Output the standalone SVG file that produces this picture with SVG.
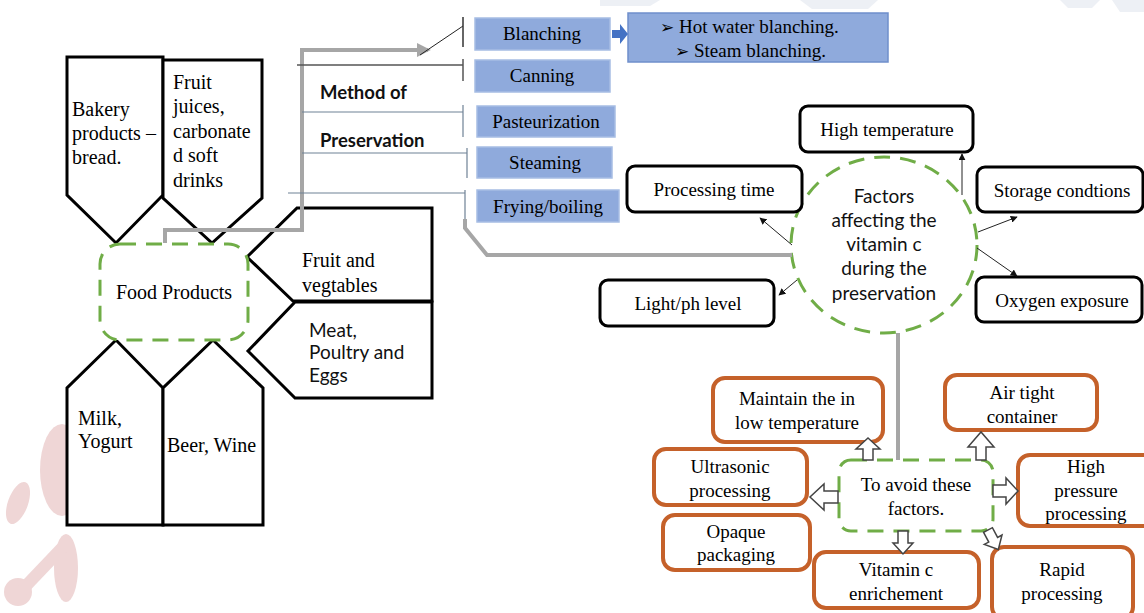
<svg xmlns="http://www.w3.org/2000/svg" width="1144" height="613" viewBox="0 0 1144 613">
<defs>
<style>
.serif{font-family:"Liberation Serif","Times New Roman",serif;fill:#000}
.sans{font-family:Lato,"Liberation Sans",sans-serif;fill:#111}
.s20{font-size:20px}
.s19{font-size:19px}
.bul{font-family:"DejaVu Sans",sans-serif;font-size:17px}
.pent{fill:#fff;stroke:#000;stroke-width:3}
.blue{fill:#8FAADC;stroke:#A7BDE4;stroke-width:1.5}
.blk{fill:#fff;stroke:#000;stroke-width:3}
.org{fill:#fff;stroke:#C5612A;stroke-width:4}
.dash{fill:#fff;stroke:#70AD47;stroke-width:3;stroke-dasharray:16 10}
.gray{fill:none;stroke:#A6A6A6;stroke-width:4}
.thin{fill:none;stroke:#222;stroke-width:1}
.bl{fill:none;stroke:#6F8296;stroke-width:1.2}
.barr{fill:#fff;stroke:#444;stroke-width:1.5;stroke-linejoin:miter}
</style>
<marker id="ah" viewBox="0 0 10 10" refX="9" refY="5" markerWidth="7" markerHeight="7" markerUnits="userSpaceOnUse" orient="auto">
<path d="M0,0 L10,5 L0,10 Z" fill="#111"/>
</marker>
<marker id="gh" viewBox="0 0 10 10" refX="8" refY="5" markerWidth="14" markerHeight="14" markerUnits="userSpaceOnUse" orient="auto">
<path d="M0,0 L10,5 L0,10 Z" fill="#A6A6A6"/>
</marker>
</defs>
<rect width="1144" height="613" fill="#fff"/>

<g id="watermark">
<g fill="#EFD6D6">
<ellipse cx="62" cy="470" rx="22" ry="46"/>
<ellipse cx="18" cy="503" rx="10" ry="22" transform="rotate(20 18 503)"/>
<circle cx="18" cy="592" r="14"/>
<ellipse cx="66" cy="568" rx="12" ry="34"/>
</g>
<path d="M22,590 L62,548" stroke="#EFD6D6" stroke-width="12"/>
<g fill="#EDF0F5">
<polygon points="600,0 660,0 650,6 600,6"/>
<polygon points="800,0 878,0 868,9 812,9"/>
<polygon points="1060,0 1100,0 1092,8 1068,8"/>
<polygon points="1112,0 1144,0 1144,12 1120,12"/>
</g>
</g>

<g id="bakery">
<path class="pent" d="M67,57 H163 V195 L116,243 L67,195 Z"/>
<text class="serif s20" x="72" y="116">Bakery</text>
<text class="serif s20" x="72" y="140">products –</text>
<text class="serif s20" x="72" y="164">bread.</text>
</g>
<g id="juices">
<path class="pent" d="M163,60 H262 V198 L212,243 L163,198 Z"/>
<text class="serif s20" x="173" y="89">Fruit</text>
<text class="serif s20" x="173" y="113">juices,</text>
<text class="serif s20" x="173" y="138">carbonate</text>
<text class="serif s20" x="173" y="162">d soft</text>
<text class="serif s20" x="173" y="187">drinks</text>
</g>
<g id="fruitveg">
<path class="pent" d="M297,208 H432 V301 H293 L247,257 Z"/>
<text class="serif s20" x="302" y="267">Fruit and</text>
<text class="serif s20" x="302" y="292">vegtables</text>
</g>
<g id="meat">
<path class="pent" d="M295,302 H432 V398 H295 L248,351 Z"/>
<text class="sans s19" x="309" y="337">Meat,</text>
<text class="sans s19" x="309" y="359">Poultry and</text>
<text class="sans s19" x="309" y="382">Eggs</text>
</g>
<g id="milk">
<path class="pent" d="M67,525 V388 L116,340 L163,388 V525 Z"/>
<text class="serif s20" x="78" y="425">Milk,</text>
<text class="serif s20" x="78" y="448">Yogurt</text>
</g>
<g id="beer">
<path class="pent" d="M163,525 V388 L213,340 L263,388 V525 Z"/>
<text class="serif s20" x="167" y="452">Beer, Wine</text>
</g>
<g id="food-products">
<rect class="dash" x="100" y="244" width="148" height="96" rx="20"/>
<text class="serif s20" x="116" y="299">Food Products</text>
</g>

<g id="method">
<text class="sans" x="320" y="99" font-size="18.5" font-weight="bold">Method of</text>
<text class="sans" x="320" y="147" font-size="18.5" font-weight="bold">Preservation</text>
</g>

<g id="blanching">
<rect class="blue" x="475" y="18" width="135" height="32"/>
<text class="serif s19" x="542" y="40" text-anchor="middle">Blanching</text>
</g>
<g id="canning">
<rect class="blue" x="475" y="60" width="135" height="32"/>
<text class="serif s19" x="542" y="82" text-anchor="middle">Canning</text>
</g>
<g id="pasteurization">
<rect class="blue" x="477" y="106" width="138" height="31"/>
<text class="serif s19" x="546" y="128" text-anchor="middle">Pasteurization</text>
</g>
<g id="steaming">
<rect class="blue" x="477" y="147" width="135" height="31"/>
<text class="serif s19" x="545" y="169" text-anchor="middle">Steaming</text>
</g>
<g id="frying">
<rect class="blue" x="477" y="190" width="142" height="32"/>
<text class="serif s19" x="548" y="213" text-anchor="middle">Frying/boiling</text>
</g>
<g id="blanching-types">
<rect x="628" y="13" width="260" height="49" fill="#8FAADC" stroke="#6F8FCB" stroke-width="1.5"/>
<text class="serif s19" x="660" y="33"><tspan class="bul">➢</tspan> Hot water blanching.</text>
<text class="serif s19" x="675" y="57"><tspan class="bul">➢</tspan> Steam blanching.</text>
</g>

<g id="factors">
<ellipse cx="884" cy="245" rx="93" ry="88" fill="#fff" stroke="#70AD47" stroke-width="3" stroke-dasharray="16 10"/>
<g class="sans s19" text-anchor="middle">
<text x="884" y="203">Factors</text>
<text x="884" y="227">affecting the</text>
<text x="884" y="251">vitamin c</text>
<text x="884" y="275">during the</text>
<text x="884" y="300">preservation</text>
</g>
</g>
<g id="high-temperature">
<rect class="blk" x="800" y="106" width="173" height="46" rx="8"/>
<text class="serif s19" x="887" y="136" text-anchor="middle">High temperature</text>
</g>
<g id="processing-time">
<rect class="blk" x="627" y="166" width="175" height="46" rx="8"/>
<text class="serif s19" x="714" y="196" text-anchor="middle">Processing time</text>
</g>
<g id="storage">
<rect class="blk" x="977" y="167" width="166" height="45" rx="8"/>
<text class="serif s19" x="1062" y="197" text-anchor="middle">Storage condtions</text>
</g>
<g id="light">
<rect class="blk" x="600" y="280" width="174" height="46" rx="8"/>
<text class="serif s19" x="688" y="310" text-anchor="middle">Light/ph level</text>
</g>
<g id="oxygen">
<rect class="blk" x="976" y="277" width="166" height="45" rx="8"/>
<text class="serif s19" x="1062" y="307" text-anchor="middle">Oxygen exposure</text>
</g>

<g id="avoid">
<rect class="dash" x="839" y="460" width="154" height="71" rx="12"/>
<text class="serif s19" x="916" y="491" text-anchor="middle">To avoid these</text>
<text class="serif s19" x="916" y="515" text-anchor="middle">factors.</text>
</g>
<g id="maintain">
<rect class="org" x="713" y="378" width="170" height="64" rx="12"/>
<text class="serif s19" x="797" y="405" text-anchor="middle">Maintain the in</text>
<text class="serif s19" x="797" y="429" text-anchor="middle">low temperature</text>
</g>
<g id="airtight">
<rect class="org" x="945" y="375" width="152" height="55" rx="12"/>
<text class="serif s19" x="1022" y="399" text-anchor="middle">Air tight</text>
<text class="serif s19" x="1022" y="423" text-anchor="middle">container</text>
</g>
<g id="ultrasonic">
<rect class="org" x="654" y="449" width="153" height="56" rx="12"/>
<text class="serif s19" x="730" y="473" text-anchor="middle">Ultrasonic</text>
<text class="serif s19" x="730" y="497" text-anchor="middle">processing</text>
</g>
<g id="high-pressure">
<rect class="org" x="1018" y="455" width="140" height="71" rx="12"/>
<text class="serif s19" x="1086" y="473" text-anchor="middle">High</text>
<text class="serif s19" x="1086" y="497" text-anchor="middle">pressure</text>
<text class="serif s19" x="1086" y="520" text-anchor="middle">processing</text>
</g>
<g id="opaque">
<rect class="org" x="663" y="515" width="147" height="55" rx="12"/>
<text class="serif s19" x="736" y="538" text-anchor="middle">Opaque</text>
<text class="serif s19" x="736" y="561" text-anchor="middle">packaging</text>
</g>
<g id="vitamin-enrich">
<rect class="org" x="814" y="552" width="165" height="56" rx="12"/>
<text class="serif s19" x="896" y="576" text-anchor="middle">Vitamin c</text>
<text class="serif s19" x="896" y="600" text-anchor="middle">enrichement</text>
</g>
<g id="rapid">
<rect class="org" x="992" y="547" width="141" height="72" rx="12"/>
<text class="serif s19" x="1062" y="576" text-anchor="middle">Rapid</text>
<text class="serif s19" x="1062" y="600" text-anchor="middle">processing</text>
</g>

<g id="connectors">
<path class="gray" d="M165,243 V230 H302 V50 H428" marker-end="url(#gh)"/>
<path d="M420,55 L463,26" stroke="#222" stroke-width="1"/>
<path d="M463,17 V47" stroke="#333" stroke-width="1.5"/>
<path d="M297,65 H463 M463,59 V81" fill="none" stroke="#555" stroke-width="1.5"/>
<path class="bl" d="M302,112 H463 M463,105 V137"/>
<path class="bl" d="M302,153 H467 M467,148 V178"/>
<path class="bl" d="M288,193 H465 M465,190 V222"/>
<path class="gray" d="M465,219 V228 L487,255 H792"/>
<path class="gray" d="M898,333 V460"/>
<path d="M612,30 H620 V24 L628,34 L620,44 V38 H612 Z" fill="#4472C4"/>
<path class="thin" d="M962,195 V154" marker-end="url(#ah)"/>
<path class="thin" d="M792,245 L760,218" marker-end="url(#ah)"/>
<path class="thin" d="M978,232 L1017,217" marker-end="url(#ah)"/>
<path class="thin" d="M977,248 L1017,276" marker-end="url(#ah)"/>
<path class="thin" d="M797,280 L779,295" marker-end="url(#ah)"/>
<path class="barr" d="M863,460 V449 H856 L868,438 L880,449 H873 V460 Z"/>
<path class="barr" d="M976,460 V447 H968 L981,432 L994,447 H986 V460 Z"/>
<path class="barr" d="M838,491 H824 V484 L810,497 L824,510 V503 H838 Z"/>
<path class="barr" d="M993,485 H1006 V478 L1018,491 L1006,504 V497 H993 Z"/>
<path class="barr" d="M898,531 V543 H893 L903,554 L913,543 H908 V531 Z"/>
<path class="barr" d="M983,530 V541 H978 L988,552 L998,541 H993 V530 Z" transform="rotate(-28 988 530)"/>
</g>
</svg>
